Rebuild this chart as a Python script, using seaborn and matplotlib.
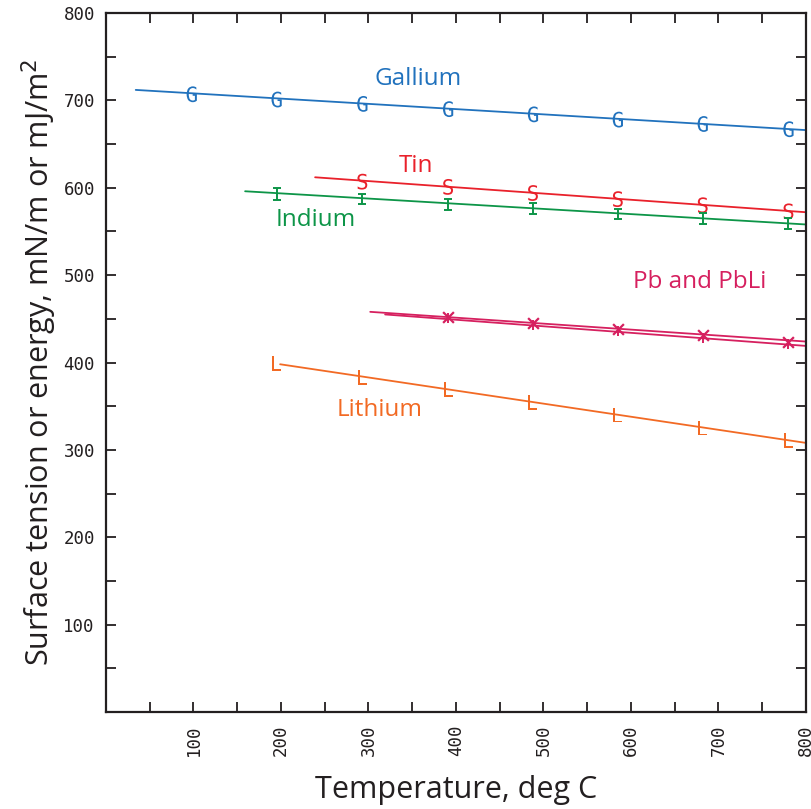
import numpy as np
import pandas as pd
import seaborn as sns
import matplotlib.pyplot as plt
from matplotlib.ticker import MultipleLocator

# Measured points (temperature in deg C, surface tension in mN/m)
ga_t = [98, 195, 293, 391, 488, 585, 682, 780]
ga_s = [707, 701, 696, 690, 684, 678, 673, 667]
sn_t = [293, 391, 488, 585, 682, 780]
sn_s = [607, 601, 594, 587, 580, 573]
in_t = [195, 293, 391, 488, 585, 682, 780]
in_s = [593, 587, 581, 576, 570, 565, 559]
in_err = [7, 6, 6, 6, 6, 6, 6]
pb_t = [391, 488, 585, 682, 780]
pb_s = [452, 445, 438, 431, 424]
pbli_s = [451, 443, 436, 428, 421]
li_t = [195, 293, 391, 488, 585, 682, 780]
li_s = [399, 383, 369, 354, 340, 325, 311]

# Fitted lines: (start T, end T, start value, end value)
ga_fit_t, ga_fit_s = [34, 800], [712, 666]
sn_fit_t, sn_fit_s = [239, 800], [612, 572]
in_fit_t, in_fit_s = [159, 800], [596, 558]
pb_fit_t, pb_fit_s = [302, 800], [458, 424]
pbli_fit_t, pbli_fit_s = [319, 800], [455, 419]
li_fit_t, li_fit_s = [199, 800], [398, 308]

c_ga = '#2172bd'
c_sn = '#e9212b'
c_in = '#0d9548'
c_pb = '#d6205f'
c_li = '#f26a24'

sns.set_style("ticks")
plt.rcParams['font.family'] = ['Open Sans', 'DejaVu Sans']

fig = plt.figure(figsize=(8.11, 8.09), dpi=100)
ax = fig.add_axes([0.1307, 0.1199, 0.8631, 0.864])

# fit lines
for t, s, c in [(ga_fit_t, ga_fit_s, c_ga), (sn_fit_t, sn_fit_s, c_sn),
                (in_fit_t, in_fit_s, c_in), (pb_fit_t, pb_fit_s, c_pb),
                (pbli_fit_t, pbli_fit_s, c_pb), (li_fit_t, li_fit_s, c_li)]:
    sns.lineplot(x=t, y=s, color=c, linewidth=1.3, ax=ax)

# letter markers
sns.scatterplot(x=ga_t, y=ga_s, marker='$\\mathtt{G}$', s=130, color=c_ga,
                edgecolor='none', ax=ax)
sns.scatterplot(x=sn_t, y=sn_s, marker='$\\mathtt{S}$', s=130, color=c_sn,
                edgecolor='none', ax=ax)
ax.errorbar(in_t, in_s, yerr=in_err, fmt='none', ecolor=c_in, capsize=3,
            elinewidth=1.4, capthick=1.4)
sns.scatterplot(x=pb_t, y=pb_s, marker='x', s=60, color=c_pb, linewidth=1.6, ax=ax)
ax.errorbar(pb_t, pbli_s, yerr=6, fmt='none', ecolor=c_pb, capsize=0, elinewidth=1.4)
sns.scatterplot(x=li_t, y=li_s, marker='$\\mathtt{L}$', s=110, color=c_li,
                edgecolor='none', ax=ax)

# series labels
lab_kw = dict(fontsize=17.5, ha='center', va='center')
ax.text(357, 725, 'Gallium', color=c_ga, **lab_kw)
ax.text(354, 625, 'Tin', color=c_sn, **lab_kw)
ax.text(240, 563, 'Indium', color=c_in, **lab_kw)
ax.text(679, 492, 'Pb and PbLi', color=c_pb, **lab_kw)
ax.text(313, 346, 'Lithium', color=c_li, **lab_kw)

ax.set_xlim(0, 800)
ax.set_ylim(0, 800)
ax.xaxis.set_major_locator(MultipleLocator(100))
ax.xaxis.set_minor_locator(MultipleLocator(50))
ax.yaxis.set_major_locator(MultipleLocator(100))
ax.yaxis.set_minor_locator(MultipleLocator(50))
ax.tick_params(which='both', direction='in', top=True, right=True,
               length=7, width=1.3, colors='#231f20')
ax.set_xticks(range(100, 801, 100))
ax.set_xticklabels([str(v) for v in range(100, 801, 100)], rotation=90)
ax.set_yticks(range(100, 801, 100))
ax.set_yticklabels([str(v) for v in range(100, 801, 100)])
for lab in ax.get_xticklabels() + ax.get_yticklabels():
    lab.set_family('DejaVu Sans Mono')
    lab.set_fontsize(12.5)
    lab.set_color('#231f20')
ax.tick_params(axis='x', pad=9)
ax.tick_params(axis='y', pad=8)
for sp in ax.spines.values():
    sp.set_linewidth(1.6)
    sp.set_color('#231f20')

ax.set_xlabel('Temperature, deg C', fontsize=22, color='#231f20', labelpad=14)
ax.set_ylabel('Surface tension or energy, mN/m or mJ/m$^2$', fontsize=22,
              color='#231f20', labelpad=3)

fig.savefig('out.png', dpi=100)
